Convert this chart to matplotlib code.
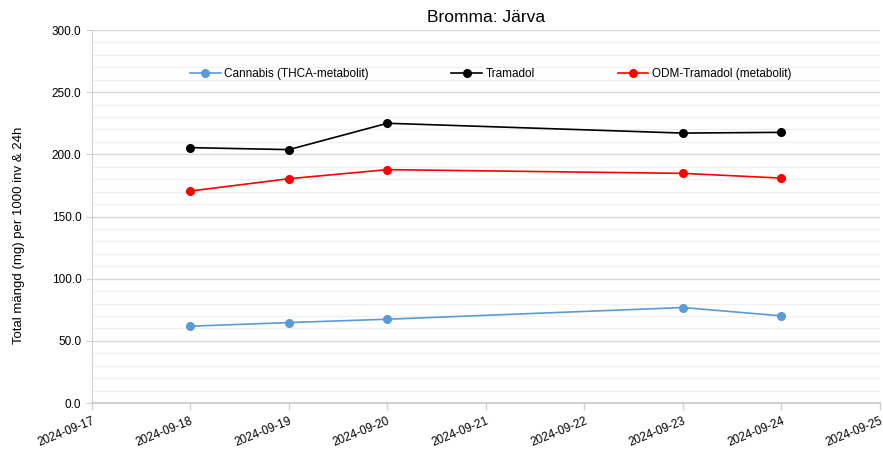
import matplotlib
matplotlib.use("Agg")
import matplotlib.pyplot as plt
import matplotlib.dates as mdates
from matplotlib.ticker import MultipleLocator, FormatStrFormatter
import datetime as dt

dates = ["2024-09-18", "2024-09-19", "2024-09-20", "2024-09-23", "2024-09-24"]
cannabis = [61.8, 64.7, 67.4, 76.8, 70.1]
tramadol = [205.4, 203.8, 225.0, 217.1, 217.7]
odm_tramadol = [170.5, 180.4, 187.7, 184.7, 180.9]

labels = ["Cannabis (THCA-metabolit)", "Tramadol", "ODM-Tramadol (metabolit)"]
colors = ["#5B9BD5", "#000000", "#FF0000"]

plt.rcParams['font.family'] = ['Liberation Sans', 'DejaVu Sans']

x = [dt.datetime.strptime(d, "%Y-%m-%d") for d in dates]

fig = plt.figure(figsize=(8.83, 4.5), dpi=100)
ax = fig.add_axes([0.104, 0.1044, 0.8926, 0.8289])

for vals, lab, col in zip([cannabis, tramadol, odm_tramadol], labels, colors):
    ax.plot(x, vals, color=col, marker="o", markersize=5.5, linewidth=1.2, label=lab)

ax.set_xlim(dt.datetime(2024, 9, 17), dt.datetime(2024, 9, 25))
ax.set_ylim(0, 300)
ax.yaxis.set_major_locator(MultipleLocator(50))
ax.yaxis.set_minor_locator(MultipleLocator(10))
ax.yaxis.set_major_formatter(FormatStrFormatter("%.1f"))
ax.xaxis.set_major_locator(mdates.DayLocator())
ax.xaxis.set_major_formatter(mdates.DateFormatter("%Y-%m-%d"))

ax.grid(which="major", axis="y", color="#D9D9D9", linewidth=1.0)
ax.grid(which="minor", axis="y", color="#F0F0F0", linewidth=1.0)
ax.set_axisbelow(True)

for s in ["top", "right"]:
    ax.spines[s].set_visible(False)
ax.spines["left"].set_color("#D0D0D0")
ax.spines["bottom"].set_color("#D0D0D0")
ax.spines["bottom"].set_linewidth(1.5)

ax.tick_params(axis="x", colors="#D0D0D0", labelcolor="#000000", labelsize=8.5, length=5, width=1)
ax.tick_params(axis="y", which="major", colors="#D0D0D0", labelcolor="#000000", labelsize=8.5, length=4)
ax.tick_params(axis="y", which="minor", length=0)
plt.setp(ax.get_xticklabels(), rotation=22, ha="right", rotation_mode="anchor")

ax.set_ylabel("Total mängd (mg) per 1000 inv & 24h", fontsize=9.5)
ax.yaxis.set_label_coords(-0.085, 0.45)
ax.set_title("Bromma: Järva", fontsize=12.5, pad=6)

ax.legend(loc="center", bbox_to_anchor=(0.506, 0.882), ncol=3, frameon=False,
          fontsize=8.5, columnspacing=7.0, handlelength=2.6, handletextpad=0.3)

fig.savefig("out.png", dpi=100)
